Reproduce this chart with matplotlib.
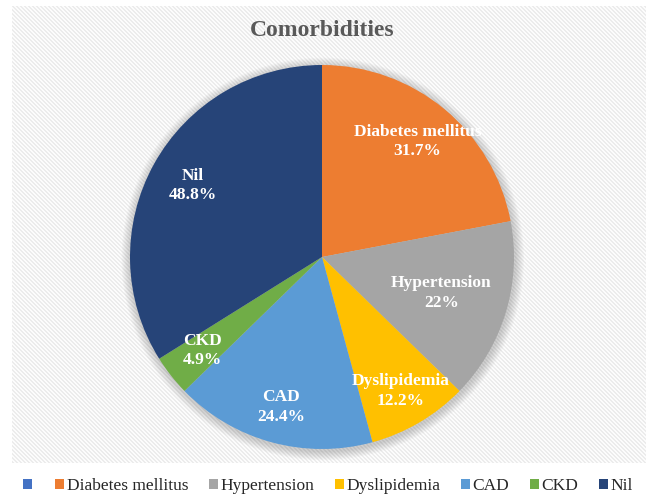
import numpy as np
import matplotlib
matplotlib.use('Agg')
import matplotlib.pyplot as plt
from matplotlib.patches import Circle, Patch

# Comorbidity data (values as printed on the chart; Excel normalises the slices)
categories = ['', 'Diabetes mellitus', 'Hypertension', 'Dyslipidemia', 'CAD', 'CKD', 'Nil']
values = [0, 31.7, 22, 12.2, 24.4, 4.9, 48.8]
value_labels = ['', '31.7%', '22%', '12.2%', '24.4%', '4.9%', '48.8%']
colors = ['#4472C4', '#ED7D31', '#A5A5A5', '#FFC000', '#5B9BD5', '#70AD47', '#264478']
# radial position of each data label (fraction of radius)
label_radius = [0, 0.78, 0.65, 0.81, 0.81, 0.79, 0.77]

W, H = 652, 501
fig = plt.figure(figsize=(W / 100, H / 100), dpi=100)
fig.patch.set_facecolor('white')

# striped chart-area background
bx0, by0, bx1, by1 = 12, 6, 646, 463
bg = fig.add_axes([bx0 / W, 1 - by1 / H, (bx1 - bx0) / W, (by1 - by0) / H])
rows, cols = np.indices((by1 - by0, bx1 - bx0))
stripe = ((cols - rows) % 4) < 2
img = np.where(stripe, 0.925, 0.985)
bg.imshow(img, cmap='gray', vmin=0, vmax=1, interpolation='nearest', aspect='auto')
bg.axis('off')

# pie axes
cx, cy, r = 322, 257, 192
ax = fig.add_axes([(cx - r) / W, (H - cy - r) / H, 2 * r / W, 2 * r / H])

wedges, _ = ax.pie(values, colors=colors, startangle=90, counterclock=False,
                   radius=1.0, wedgeprops=dict(linewidth=0))
for w in wedges:
    w.set_zorder(2)
ax.set_xlim(-1, 1)
ax.set_ylim(-1, 1)
ax.set_aspect('equal')
ax.axis('off')

# soft shadow round the pie
for k in range(8):
    ax.add_patch(Circle((0.004, -0.01), 1.0 + 0.006 * (k + 1), color='black',
                        alpha=0.025, lw=0, zorder=0, clip_on=False))

total = sum(values)
start = 0.0
for name, val, lab, rr in zip(categories, values, value_labels, label_radius):
    frac = val / total
    mid = start + frac / 2
    start += frac
    if val == 0:
        continue
    ang = np.pi / 2 - 2 * np.pi * mid
    ax.text(rr * np.cos(ang), rr * np.sin(ang), f'{name}\n{lab}', ha='center', va='center',
            color='white', fontsize=12.5, fontweight='bold', family='Liberation Serif',
            linespacing=1.3, zorder=3)

fig.text(cx / W, 1 - 30 / H, 'Comorbidities', ha='center', va='center',
         fontsize=17, fontweight='bold', color='#595959', family='Liberation Serif')

handles = [Patch(facecolor=c, edgecolor='none') for c in colors]
fig.legend(handles, categories, loc='center', bbox_to_anchor=(328 / W, 1 - 486 / H),
           ncol=7, frameon=False, prop={'family': 'Liberation Serif', 'size': 12.5},
           handlelength=0.5, handleheight=0.5, handletextpad=0.15, columnspacing=1.2,
           labelcolor='#262626')

fig.savefig('out.png', dpi=100)
